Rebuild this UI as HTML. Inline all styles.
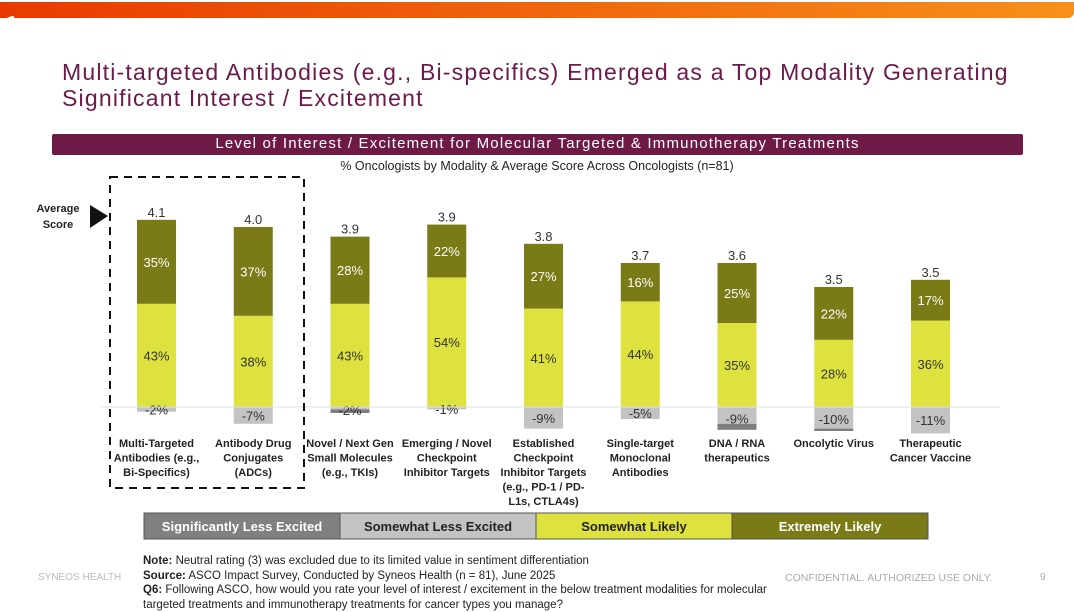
<!DOCTYPE html>
<html><head><meta charset="utf-8"><style>
body{margin:0;width:1074px;height:609px;overflow:hidden;background:#fff;font-family:"Liberation Sans","Noto Sans CJK SC",sans-serif;position:relative}
.abs{position:absolute}
</style></head><body>
<div class="abs" style="left:0;top:2px;width:1074px;height:16px;background:linear-gradient(90deg,#e83a00,#f7901a);border-radius:0 0 6px 0"></div>
<div class="abs" style="left:0;top:16px;width:14px;height:20px;background:#fff;border-radius:14px 0 0 0"></div>
<div class="abs" style="left:62px;top:59px;font-size:23px;line-height:26px;color:#6b1a4a;letter-spacing:1.2px">Multi-targeted Antibodies (e.g., Bi-specifics) Emerged as a Top Modality Generating<br>Significant Interest / Excitement</div>
<div class="abs" style="left:52px;top:134px;width:971px;height:21px;background:#6e1a47;color:#fff;font-size:15px;letter-spacing:1.2px;text-align:center;line-height:20px;border-radius:2px">Level of Interest / Excitement for Molecular Targeted &amp; Immunotherapy Treatments</div>
<div class="abs" style="left:0;width:1074px;top:159px;font-size:12.5px;text-align:center;color:#222">% Oncologists by Modality &amp; Average Score Across Oncologists (n=81)</div>
<svg class="abs" style="left:0;top:0" width="1074" height="609" id="chart"></svg>
<div class="abs" style="left:143px;top:554px;font-size:11.5px;line-height:14.5px;color:#222"><b>Note:</b> Neutral rating (3) was excluded due to its limited value in sentiment differentiation<br><b>Source:</b> ASCO Impact Survey, Conducted by Syneos Health (n = 81), June 2025<br><b>Q6:</b> Following ASCO, how would you rate your level of interest / excitement in the below treatment modalities for molecular<br>targeted treatments and immunotherapy treatments for cancer types you manage?</div>
<div class="abs" style="left:38px;top:572px;font-size:10px;color:#bbb">SYNEOS HEALTH</div>
<div class="abs" style="left:785px;top:572px;font-size:10.5px;color:#aaa">CONFIDENTIAL. AUTHORIZED USE ONLY.</div>
<div class="abs" style="left:1040px;top:572px;font-size:10px;color:#aaa">9</div>
<script>
const categories=[["Multi-Targeted","Antibodies (e.g.,","Bi-Specifics)"],["Antibody Drug","Conjugates","(ADCs)"],["Novel / Next Gen","Small Molecules","(e.g., TKIs)"],["Emerging / Novel","Checkpoint","Inhibitor Targets"],["Established","Checkpoint","Inhibitor Targets","(e.g., PD-1 / PD-","L1s, CTLA4s)"],["Single-target","Monoclonal","Antibodies"],["DNA / RNA","therapeutics"],["Oncolytic Virus"],["Therapeutic","Cancer Vaccine"]];
const extremely=[35,37,28,22,27,16,25,22,17];
const somewhat=[43,38,43,54,41,44,35,28,36];
const lessExcited=[2,7,1,1,9,5,7,9,11];
const sigLess=[0,0,1.5,0,0,0,2.5,1,0];
const negLabels=["-2%","-7%","-2%","-1%","-9%","-5%","-9%","-10%","-11%"];
const avgScore=["4.1","4.0","3.9","3.9","3.8","3.7","3.6","3.5","3.5"];
const svg=document.getElementById('chart');const NS="http://www.w3.org/2000/svg";
const zeroY=407,pxPer=2.4,x0=156.5,step=96.75,bw=39;
const y=v=>zeroY-v*pxPer;const xc=i=>x0+i*step;
function el(t,a){const e=document.createElementNS(NS,t);for(const k in a)e.setAttribute(k,a[k]);svg.appendChild(e);return e;}
function txt(x,yy,s,a){const e=el('text',Object.assign({x:x,y:yy,'text-anchor':'middle','font-size':12,fill:'#222','font-family':'Liberation Sans, sans-serif'},a||{}));e.textContent=s;return e;}
categories.forEach((c,i)=>{
 const cx=xc(i),l=cx-bw/2;
 let r=el('rect',{x:l,y:y(somewhat[i]),width:bw,height:somewhat[i]*pxPer,fill:'#dde23e'});
 
 r=el('rect',{x:l,y:y(somewhat[i]+extremely[i]),width:bw,height:extremely[i]*pxPer,fill:'#7a7a16'});
 
 r=el('rect',{x:l,y:zeroY,width:bw,height:lessExcited[i]*pxPer,fill:'#c3c3c3'});
 
 r=el('rect',{x:l,y:zeroY+lessExcited[i]*pxPer,width:bw,height:sigLess[i]*pxPer,fill:'#7f7f7f'});
 
 let t=txt(cx,y(somewhat[i]/2)+5,somewhat[i]+'%',{fill:'#333','font-size':13});
 
 t=txt(cx,y(somewhat[i]+extremely[i]/2)+5,extremely[i]+'%',{fill:'#fff','font-size':13});
 
 const neg=lessExcited[i]+sigLess[i];
 t=txt(cx,zeroY+Math.max(neg*pxPer/2+5,7),negLabels[i],{fill:'#333','font-size':13});
 
 t=txt(cx,y(somewhat[i]+extremely[i])-3,avgScore[i],{fill:'#333','font-size':13});
 
 c.forEach((ln,j)=>{const tt=txt(cx,447+j*14.5,ln,{'font-size':11,'font-weight':'bold'});});
});
let z=el('line',{x1:100,x2:1000,y1:zeroY,y2:zeroY,stroke:'#dde3ea','stroke-width':1});

let b=el('rect',{x:110,y:177,width:194,height:311,fill:'none',stroke:'#111','stroke-width':2,'stroke-dasharray':'8,6'});

let a=el('polygon',{points:'90,205 90,228 108,216',fill:'#111'});

let t1=txt(58,212,'Average',{'font-size':11,'font-weight':'bold'});
let t2=txt(58,228,'Score',{'font-size':11,'font-weight':'bold'});
const legendNames=["Significantly Less Excited","Somewhat Less Excited","Somewhat Likely","Extremely Likely"];
const legendColors=["#808080","#c3c3c3","#dde23e","#7a7a16"];
const legendText=["#fff","#222","#222","#fff"];
legendNames.forEach((n,i)=>{const lx=144+i*196;
 const r=el('rect',{x:lx,y:513,width:196,height:26,fill:legendColors[i],stroke:'#555','stroke-width':1});
 
 const t=txt(lx+98,531,n,{'font-size':13,'font-weight':'bold',fill:legendText[i]});
 });
</script>
</body></html>
